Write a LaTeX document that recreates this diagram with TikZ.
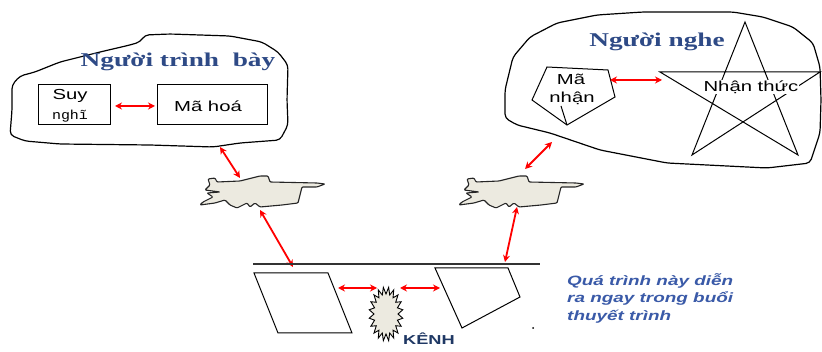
\documentclass[tikz,border=0pt]{standalone}
\usepackage{fontspec}
\setmainfont{Liberation Serif}
\setsansfont{Liberation Sans}
\setmonofont{Liberation Mono}
\usetikzlibrary{arrows.meta}
\definecolor{titleblue}{HTML}{2E4A86}
\definecolor{noteblue}{HTML}{3A5AA8}
\definecolor{kenhblue}{HTML}{1F3864}
\definecolor{fishfill}{HTML}{ECEAE0}
\newcommand\wide[1]{\scalebox{1.4}[1]{#1}}
\tikzset{
  redarrow/.style={red, line width=1.8pt, {Stealth[length=7pt,width=7pt]}-{Stealth[length=7pt,width=7pt]}},
  outline/.style={black, line width=1.2pt, rounded corners=4pt},
  boxed/.style={draw, line width=1pt},
  shapeline/.style={draw, line width=1pt},
  titletext/.style={font=\fontsize{19.5}{22}\selectfont\bfseries, text=titleblue, inner sep=0pt},
  sanslabel/.style={font=\sffamily\fontsize{14.5}{16}\selectfont, inner sep=0pt},
  fishshape/.style={draw=black!85, fill=fishfill, line width=1.1pt, rounded corners=1pt},
}
\begin{document}
\begin{tikzpicture}[x=1pt,y=-1pt]
\useasboundingbox (0,0) rectangle (822,352);
\fill[white] (0,0) rectangle (822,352);

% left cloud
\draw[outline] (12,85) -- (20,76) -- (35,72) -- (60,62) -- (100,52) -- (130,45) -- (140,42) -- (145,35) -- (170,34) -- (230,36) -- (262,42) -- (278,52) -- (288,65) -- (287,100) -- (288,125) -- (280,140) -- (240,143) -- (213,147) -- (150,145) -- (60,144) -- (25,141) -- (10,135) -- (12,110) -- cycle;
\node[titletext] (ltitle) at (178,62) {\wide{Người trình\ \ bày}};

\node[boxed, minimum width=72pt, minimum height=40pt] (suybox) at (74,105) {};
\node[sanslabel] (suy) at (70,96) {\wide{Suy}};
\node[font=\ttfamily\fontsize{13}{15}\selectfont, inner sep=0pt] (nghi) at (70,116) {\scalebox{1.15}[1]{nghĩ}};
\node[boxed, minimum width=110pt, minimum height=40pt] (mahoabox) at (212,105) {};
\node[sanslabel] (mahoa) at (208,106) {\wide{Mã hoá}};
\coordinate (a5s) at (115,106);
\coordinate (a5e) at (155,106);
\draw[redarrow] (a5s) -- (a5e);

% right cloud
\draw[outline] (505,118) -- (505,90) -- (513,57) -- (530,37) -- (557,23) -- (597,15) -- (643,12) -- (700,12) -- (733,12) -- (763,17) -- (793,27) -- (813,43) -- (820,67) -- (821,100) -- (820,133) -- (810,163) -- (767,168) -- (667,163) -- (600,150) -- (550,133) -- (517,125) -- cycle;
\node[titletext] (rtitle) at (657,42) {\wide{Người nghe}};

\draw[shapeline] (547,67) -- (608,70) -- (615,97) -- (567,125) -- (532,100) -- cycle;
\draw[line width=1pt] (561,106) -- (567,125);
\node[sanslabel] (ma) at (571,79) {\wide{Mã}};
\node[sanslabel] (nhan) at (572,98) {\wide{nhận}};

\draw[shapeline, line join=miter] (745,22) -- (692,155) -- (820,72) -- (660,72) -- (798,155) -- cycle;
\node[sanslabel, fill=white, inner sep=0.5pt] (nhanthuc) at (751,87) {\wide{Nhận\ thức}};
\coordinate (a6s) at (610,80);
\coordinate (a6e) at (662,80);
\draw[redarrow] (a6s) -- (a6e);

% fishes (noise)
\draw[fishshape] (208,179) -- (215,178) -- (217,182) -- (240,181) -- (260,176) -- (268,176) -- (270,182) -- (317,183) -- (325,184) -- (317,187) -- (302,187) -- (298,203) -- (282,205) -- (260,207) -- (255,203) -- (250,207) -- (247,203) -- (237,208) -- (230,205) -- (225,200) -- (215,203) -- (200,205) -- (203,202) -- (213,197) -- (207,193) -- (220,192) -- (205,190) -- (210,185) -- cycle;
\begin{scope}[shift={(259,0)}]
\draw[fishshape] (208,179) -- (215,178) -- (217,182) -- (240,181) -- (260,176) -- (268,176) -- (270,182) -- (317,183) -- (325,184) -- (317,187) -- (302,187) -- (298,203) -- (282,205) -- (260,207) -- (255,203) -- (250,207) -- (247,203) -- (237,208) -- (230,205) -- (225,200) -- (215,203) -- (200,205) -- (203,202) -- (213,197) -- (207,193) -- (220,192) -- (205,190) -- (210,185) -- cycle;
\end{scope}

\coordinate (a1s) at (220,147);
\coordinate (a1e) at (240,178);
\coordinate (a2s) at (260,210);
\coordinate (a2e) at (293,267);
\coordinate (a3s) at (552,142);
\coordinate (a3e) at (525,169);
\coordinate (a4s) at (517,207);
\coordinate (a4e) at (505,262);
\draw[redarrow] (a1s) -- (a1e);
\draw[redarrow] (a2s) -- (a2e);
\draw[redarrow] (a3s) -- (a3e);
\draw[redarrow] (a4s) -- (a4e);

% channel
\draw[line width=1.3pt, black!80] (253,264) -- (540,264);
\draw[shapeline] (254,273) -- (328,273) -- (352,333) -- (278,333) -- cycle;
\draw[shapeline] (435,268) -- (508,268) -- (520,297) -- (462,328) -- cycle;
\fill (533,328) circle (1pt);
\draw[fill=fishfill, line width=0.9pt] plot[samples=40, domain=0:39, variable=\t] ({386+(12+5*mod(\t,2))*cos(\t*9)}, {314+(20+7*mod(\t,2))*sin(\t*9)}) -- cycle;
\node[font=\sffamily\bfseries\fontsize{13}{15}\selectfont, text=kenhblue, inner sep=0pt] (kenh) at (429,339) {\wide{KÊNH}};
\coordinate (a7s) at (338,288);
\coordinate (a7e) at (377,288);
\coordinate (a8s) at (400,288);
\coordinate (a8e) at (440,288);
\draw[redarrow] (a7s) -- (a7e);
\draw[redarrow] (a8s) -- (a8e);

\node[anchor=north west, align=left, inner sep=0pt, font=\sffamily\bfseries\itshape\fontsize{13.5}{17.5}\selectfont, text=noteblue] (note) at (567,273) {\wide{Quá trình này diễn}\\ \wide{ra ngay trong buổi}\\ \wide{thuyết trình}};
\end{tikzpicture}
\end{document}
